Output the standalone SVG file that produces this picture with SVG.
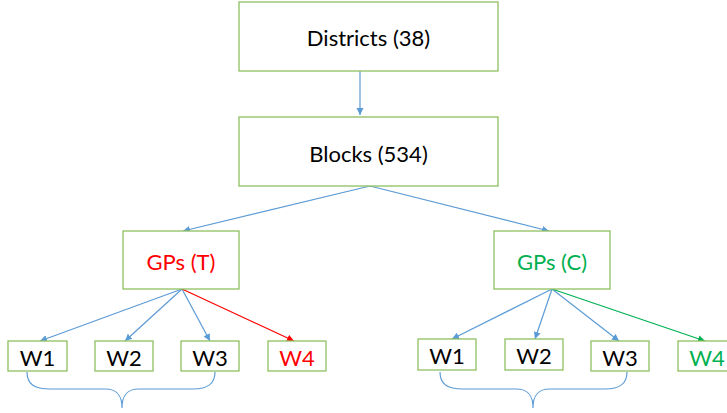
<svg xmlns="http://www.w3.org/2000/svg" width="727" height="413" viewBox="0 0 727 413">
<defs>
<marker id="ab" markerWidth="8" markerHeight="8" refX="7" refY="4" orient="auto" markerUnits="userSpaceOnUse"><path d="M0,0.5 L7,4 L0,7.5 Z" fill="#5B9BD5"/></marker>
<marker id="ar" markerWidth="8" markerHeight="8" refX="7" refY="4" orient="auto" markerUnits="userSpaceOnUse"><path d="M0,0.5 L7,4 L0,7.5 Z" fill="#FF0000"/></marker>
<marker id="ag" markerWidth="8" markerHeight="8" refX="7" refY="4" orient="auto" markerUnits="userSpaceOnUse"><path d="M0,0.5 L7,4 L0,7.5 Z" fill="#00B050"/></marker>
</defs>
<style>
.box{fill:#fff;stroke:#8FC060;stroke-width:1.3}
text{font-family:Lato,"Liberation Sans",sans-serif;font-size:22px;text-anchor:middle;dominant-baseline:central;fill:#000}
.red{fill:#FF0000}
.grn{fill:#00B050}
.c{fill:none;stroke:#5B9BD5;stroke-width:1.2}
.cr{fill:none;stroke:#FF0000;stroke-width:1.2}
.cg{fill:none;stroke:#00B050;stroke-width:1.2}
</style>
<rect width="727" height="413" fill="#fff"/>
<g id="connectors">
<line class="c" x1="360" y1="71" x2="360" y2="115" marker-end="url(#ab)"/>
<line class="c" x1="370" y1="186" x2="183" y2="231" marker-end="url(#ab)"/>
<line class="c" x1="370" y1="186" x2="549" y2="231" marker-end="url(#ab)"/>
<line class="c" x1="182" y1="289" x2="40" y2="341" marker-end="url(#ab)"/>
<line class="c" x1="182" y1="289" x2="125" y2="341" marker-end="url(#ab)"/>
<line class="c" x1="182" y1="289" x2="210" y2="341" marker-end="url(#ab)"/>
<line class="cr" x1="182" y1="289" x2="294" y2="341" marker-end="url(#ar)"/>
<line class="c" x1="552" y1="289" x2="452" y2="339" marker-end="url(#ab)"/>
<line class="c" x1="552" y1="289" x2="535" y2="339" marker-end="url(#ab)"/>
<line class="c" x1="552" y1="289" x2="619" y2="341" marker-end="url(#ab)"/>
<line class="cg" x1="552" y1="289" x2="705" y2="341" marker-end="url(#ag)"/>
<path class="c" d="M27,372 C27,384 34,389 50,389 L105,389 C117,389 122,395 122,408 C122,395 127,389 139,389 L193,389 C208,389 215,384 215,372"/>
<path class="c" d="M440,372 C440,384 447,389 463,389 L516,389 C528,389 533,395 533,408 C533,395 538,389 550,389 L605,389 C620,389 627,384 627,372"/>
</g>
<g id="districts"><rect class="box" x="239" y="2" width="259" height="69"/><text x="368.5" y="37">Districts (38)</text></g>
<g id="blocks"><rect class="box" x="239" y="117" width="259" height="69"/><text x="368.5" y="153">Blocks (534)</text></g>
<g id="gpt"><rect class="box" x="123" y="231" width="116" height="58"/><text class="red" x="181" y="261">GPs (T)</text></g>
<g id="gpc"><rect class="box" x="494" y="231" width="116" height="58"/><text class="grn" x="552" y="261">GPs (C)</text></g>
<g id="t-w1"><rect class="box" x="8" y="341" width="59" height="30"/><text x="37.5" y="357">W1</text></g>
<g id="t-w2"><rect class="box" x="95" y="341" width="58" height="30"/><text x="124" y="357">W2</text></g>
<g id="t-w3"><rect class="box" x="181" y="341" width="58" height="30"/><text x="210" y="357">W3</text></g>
<g id="t-w4"><rect class="box" x="268" y="341" width="58" height="30"/><text class="red" x="297" y="357">W4</text></g>
<g id="c-w1"><rect class="box" x="418" y="339" width="58" height="31"/><text x="447" y="355">W1</text></g>
<g id="c-w2"><rect class="box" x="505" y="339" width="58" height="31"/><text x="534" y="355">W2</text></g>
<g id="c-w3"><rect class="box" x="591" y="341" width="58" height="30"/><text x="620" y="357">W3</text></g>
<g id="c-w4"><rect class="box" x="678" y="341" width="58" height="30"/><text class="grn" x="707" y="357">W4</text></g>
</svg>
